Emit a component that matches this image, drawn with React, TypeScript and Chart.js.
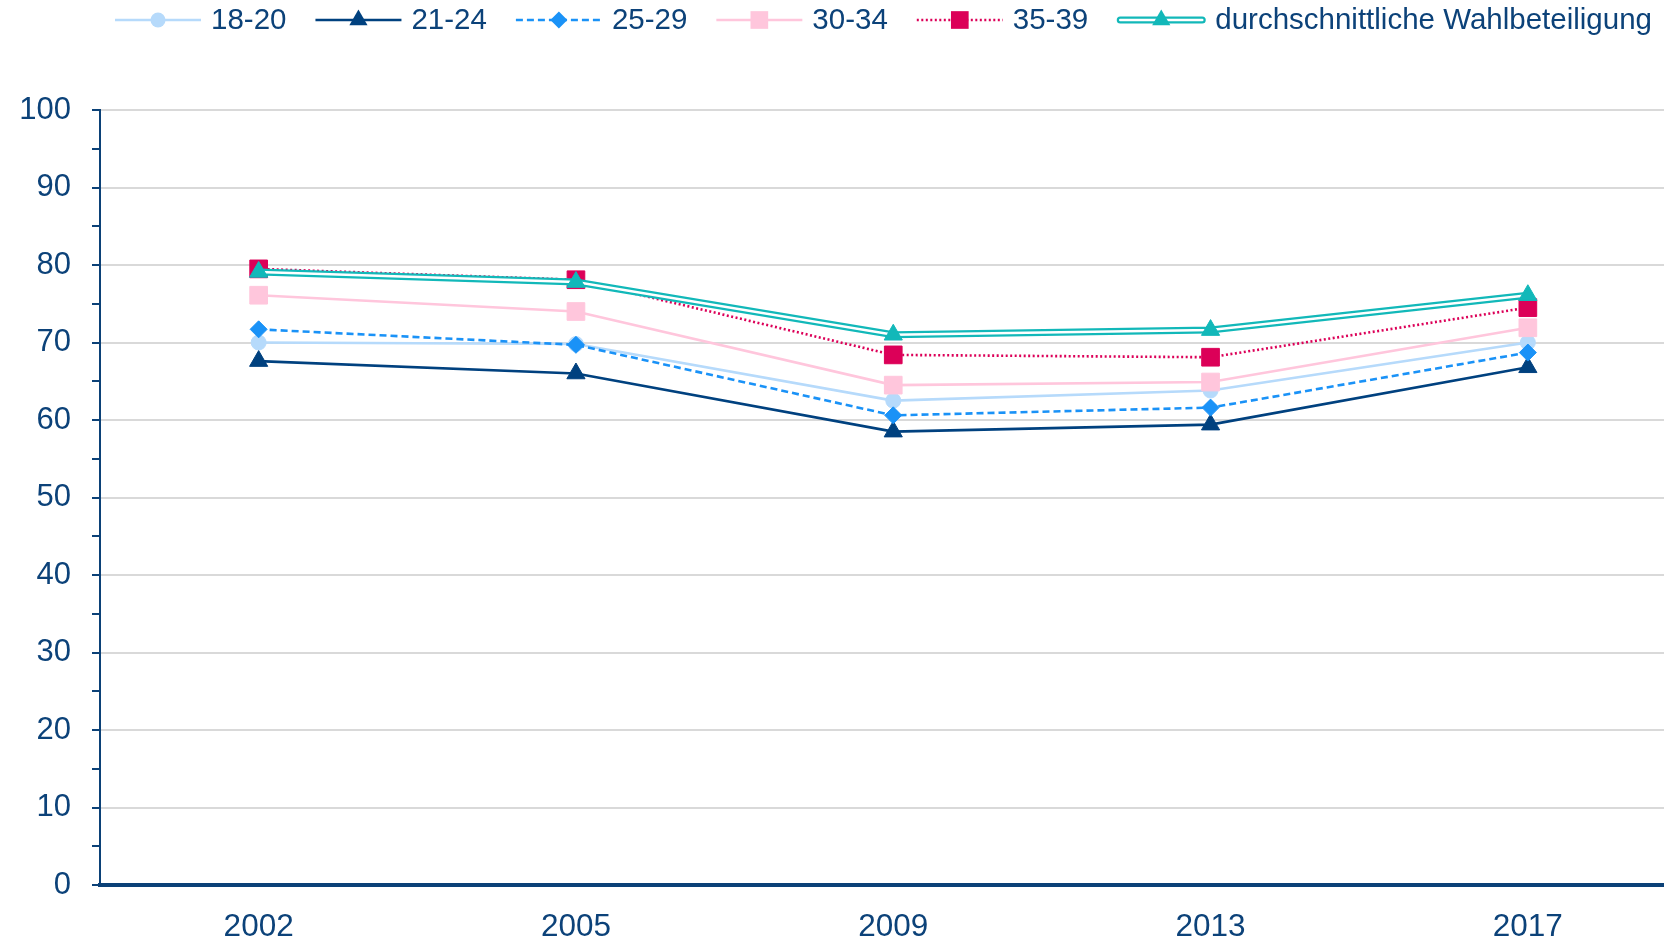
import React, { useEffect, useRef } from 'react';
import { Chart, registerables } from 'chart.js';

Chart.register(...registerables);

// ---- data ----
const years = ['2002', '2005', '2009', '2013', '2017'];
const age18to20 = [70.0, 69.8, 62.5, 63.8, 70.0];
const age21to24 = [67.6, 66.0, 58.5, 59.4, 66.8];
const age25to29 = [71.7, 69.7, 60.6, 61.6, 68.7];
const age30to34 = [76.1, 74.0, 64.5, 64.9, 71.9];
const age35to39 = [79.5, 78.1, 68.4, 68.1, 74.5];
const averageTurnout = [79.1, 77.8, 71.0, 71.6, 76.1];
const seriesLabels = ['18-20', '21-24', '25-29', '30-34', '35-39', 'durchschnittliche Wahlbeteiligung'];

// ---- styles ----
const TEXT = '#0c4279';
const AXIS = '#0b4177';
const GRID = '#d9d9d9';
const FONT = '"Liberation Sans", Arial, Helvetica, sans-serif';

const C_LIGHT = '#b6dafb';
const C_DARK = '#00417f';
const C_BLUE = '#1a92f7';
const C_PINK = '#ffc6dc';
const C_RED = '#dc0058';
const C_TEAL = '#12b8b9';

type Sty = { color: string; dash: number[]; shape: string; r: number; width: number; double?: boolean };
const styles: Sty[] = [
  { color: C_LIGHT, dash: [], shape: 'circle', r: 7.5, width: 2.6 },
  { color: C_DARK, dash: [], shape: 'triangle', r: 10.5, width: 2.6 },
  { color: C_BLUE, dash: [7, 4], shape: 'rectRot', r: 8.5, width: 2.6 },
  { color: C_PINK, dash: [], shape: 'rect', r: 12.5, width: 2.6 },
  { color: C_RED, dash: [2, 2.5], shape: 'rect', r: 12.5, width: 2.6 },
  { color: C_TEAL, dash: [], shape: 'triangle', r: 10.5, width: 7, double: true },
];

function drawShape(ctx: CanvasRenderingContext2D, shape: string, x: number, y: number, r: number, color: string) {
  ctx.fillStyle = color;
  ctx.beginPath();
  if (shape === 'circle') {
    ctx.arc(x, y, r, 0, Math.PI * 2);
  } else if (shape === 'triangle') {
    ctx.moveTo(x, y - r);
    ctx.lineTo(x + 0.866 * r, y + 0.5 * r);
    ctx.lineTo(x - 0.866 * r, y + 0.5 * r);
    ctx.closePath();
  } else if (shape === 'rectRot') {
    ctx.moveTo(x - r, y);
    ctx.lineTo(x, y - r);
    ctx.lineTo(x + r, y);
    ctx.lineTo(x, y + r);
    ctx.closePath();
  } else {
    const s = Math.SQRT1_2 * r;
    ctx.rect(x - s, y - s, 2 * s, 2 * s);
  }
  ctx.fill();
}

const legendPlugin = {
  id: 'customLegend',
  afterDraw(chart: any) {
    const ctx: CanvasRenderingContext2D = chart.ctx;
    ctx.save();
    ctx.font = `29.5px ${FONT}`;
    ctx.textBaseline = 'middle';
    ctx.textAlign = 'left';
    const y = 20;
    let x = 115;
    const lineLen = 86;
    const textGap = 10;
    const itemGap = 29;
    seriesLabels.forEach((label, i) => {
      const st = styles[i];
      const len = st.double ? 88 : lineLen;
      ctx.setLineDash(st.dash);
      if (st.double) {
        ctx.lineCap = 'round';
        ctx.strokeStyle = st.color;
        ctx.lineWidth = 7;
        ctx.beginPath();
        ctx.moveTo(x + 3, y);
        ctx.lineTo(x + len - 3, y);
        ctx.stroke();
        ctx.strokeStyle = '#ffffff';
        ctx.lineWidth = 2.5;
        ctx.beginPath();
        ctx.moveTo(x + 3, y);
        ctx.lineTo(x + len - 3, y);
        ctx.stroke();
        ctx.lineCap = 'butt';
      } else {
        ctx.strokeStyle = st.color;
        ctx.lineWidth = st.width;
        ctx.beginPath();
        ctx.moveTo(x, y);
        ctx.lineTo(x + len, y);
        ctx.stroke();
      }
      ctx.setLineDash([]);
      drawShape(ctx, st.shape, x + len / 2, y, st.r, st.color);
      const tx = x + len + textGap;
      ctx.fillStyle = TEXT;
      ctx.fillText(label, tx, y + 1);
      x = tx + ctx.measureText(label).width + itemGap;
    });
    ctx.restore();
  },
};

function lineDataset(i: number, data: number[], order: number) {
  const st = styles[i];
  return {
    label: seriesLabels[i],
    data,
    borderColor: st.color,
    backgroundColor: st.color,
    borderWidth: st.width,
    borderDash: st.dash,
    pointStyle: st.shape,
    pointRadius: st.r,
    pointBorderWidth: 1,
    pointBorderColor: st.color,
    pointBackgroundColor: st.color,
    tension: 0,
    fill: false,
    order,
  };
}

export default function App() {
  const ref = useRef<HTMLCanvasElement>(null);

  useEffect(() => {
    if (!ref.current) return;
    const datasets: any[] = [
      lineDataset(0, age18to20, 8),
      lineDataset(1, age21to24, 6),
      lineDataset(2, age25to29, 5),
      lineDataset(3, age30to34, 4),
      lineDataset(4, age35to39, 3),
      {
        label: seriesLabels[5] + ' outer',
        data: averageTurnout,
        borderColor: C_TEAL,
        borderWidth: 7,
        pointRadius: 0,
        tension: 0,
        fill: false,
        order: 2,
      },
      {
        label: seriesLabels[5] + ' inner',
        data: averageTurnout,
        borderColor: '#ffffff',
        borderWidth: 2.5,
        pointRadius: 0,
        tension: 0,
        fill: false,
        order: 1,
      },
      {
        label: seriesLabels[5],
        data: averageTurnout,
        showLine: false,
        pointStyle: 'triangle',
        pointRadius: 10.5,
        pointBorderWidth: 1,
        pointBorderColor: C_TEAL,
        pointBackgroundColor: C_TEAL,
        borderColor: C_TEAL,
        backgroundColor: C_TEAL,
        order: 0,
      },
    ];

    const chart = new Chart(ref.current, {
      type: 'line',
      data: { labels: years, datasets },
      options: {
        animation: false,
        responsive: false,
        events: [],
        layout: { padding: { top: 110, right: 12.5, bottom: 0, left: 0 } },
        plugins: { legend: { display: false }, tooltip: { enabled: false } },
        scales: {
          x: {
            type: 'category',
            offset: true,
            grid: { display: true, color: 'rgba(0,0,0,0)', drawTicks: false },
            border: { display: true, color: AXIS, width: 4 },
            ticks: { color: TEXT, font: { family: FONT, size: 31.5 }, padding: 23, autoSkip: false, maxRotation: 0 },
            afterFit: (s: any) => { s.height = 59; },
          },
          y: {
            min: 0,
            max: 100,
            ticks: {
              stepSize: 5,
              autoSkip: false,
              color: TEXT,
              font: { family: FONT, size: 31 },
              padding: 21,
              callback: (v: any) => (Number(v) % 10 === 0 ? String(v) : ''),
            },
            grid: {
              color: (c: any) => {
                const v = c.tick ? c.tick.value : 0;
                return v % 10 === 0 && v !== 0 ? GRID : 'rgba(0,0,0,0)';
              },
              lineWidth: 2,
              drawTicks: true,
              tickLength: 8,
              tickColor: AXIS,
              tickWidth: 2,
            },
            border: { display: true, color: AXIS, width: 2 },
            afterFit: (s: any) => { s.width = 100; },
          },
        },
      } as any,
      plugins: [legendPlugin],
    });
    return () => chart.destroy();
  }, []);

  return (
    <div style={{ position: 'fixed', left: 0, top: 0, width: 1664, height: 944, overflow: 'hidden', background: '#ffffff' }}>
      <canvas ref={ref} width={1700} height={944} style={{ display: 'block', width: 1700, height: 944 }} />
    </div>
  );
}
